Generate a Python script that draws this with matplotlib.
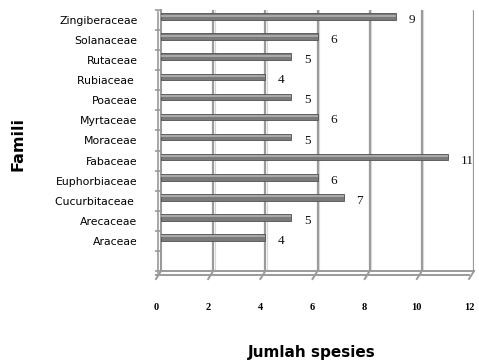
import matplotlib
matplotlib.use("Agg")
import matplotlib.pyplot as plt
import matplotlib.transforms as mtransforms
import numpy as np

families = ["Zingiberaceae", "Solanaceae", "Rutaceae", "Rubiaceae ", "Poaceae",
            "Myrtaceae", "Moraceae", "Fabaceae", "Euphorbiaceae", "Cucurbitaceae ",
            "Arecaceae", "Araceae"]
counts = [9, 6, 5, 4, 5, 6, 5, 11, 6, 7, 5, 4]
xticks = [0, 2, 4, 6, 8, 10, 12]

fig = plt.figure(figsize=(4.79, 3.64), dpi=100)
W, H = 479, 364
ax = fig.add_axes([161 / W, 1 - 271 / H, 313 / W, 261 / H])

n_slots = len(families) + 1  # one empty slot at the bottom
ypos = np.arange(len(families))
ax.set_xlim(0, 12)
ax.set_ylim(n_slots - 0.5, -0.5)

GRID = "#9a9a9a"
# gridlines
hl = mtransforms.ScaledTranslation(1.5 / 100, 0, fig.dpi_scale_trans)
for xv in xticks[1:]:
    ax.axvline(xv, color=GRID, lw=1.6, zorder=1)
    ax.plot([xv, xv], [n_slots - 0.5, -0.5], color="#d8d8d8", lw=0.8, zorder=1,
            transform=ax.transData + hl)

bar_y = ypos - 0.17
ax.barh(bar_y, counts, height=0.33, color="#7a7a7a", edgecolor="#505050", lw=0.6, zorder=3)
ax.barh(bar_y - 0.05, counts, height=0.1, color="#a8a8a8", lw=0, zorder=4)

for y, v in zip(ypos, counts):
    ax.annotate(str(v), (v, y), xytext=(9, 0), textcoords="offset points",
                ha="left", va="center", fontsize=9.5, family="Liberation Serif", color="#111111")

for s in ["top", "right", "bottom"]:
    ax.spines[s].set_visible(False)
ax.spines["left"].set_color(GRID)
ax.spines["left"].set_linewidth(1.5)

ax.set_yticks(ypos)
ax.set_yticklabels(families, fontsize=7.8, family="DejaVu Sans")
ax.set_yticks(np.arange(n_slots + 1) - 0.5, minor=True)
ax.tick_params(axis="y", which="major", length=0, pad=17)
ax.tick_params(axis="y", which="minor", length=4, color=GRID, width=1.2)

ax.set_xticks(xticks)
ax.set_xticklabels([str(t) for t in xticks], fontsize=7.5, family="Liberation Serif", fontweight="bold")
ax.tick_params(axis="x", length=0, pad=23)
offset = mtransforms.ScaledTranslation(-5 / 100, 0, fig.dpi_scale_trans)
for lab in ax.get_xticklabels():
    lab.set_transform(lab.get_transform() + offset)

# 3D floor
tr_front = ax.transData + mtransforms.ScaledTranslation(-5 / 100, -4 / 100, fig.dpi_scale_trans)
yb = n_slots - 0.5
ax.plot([0, 12], [yb, yb], color=GRID, lw=1.4, clip_on=False, zorder=2)
ax.plot([0, 12], [yb, yb], color=GRID, lw=1.4, clip_on=False, transform=tr_front, zorder=2)
ax.plot([0, 0], [yb, -0.5], color=GRID, lw=1.2, clip_on=False,
        transform=ax.transData + mtransforms.ScaledTranslation(-3 / 100, -2 / 100, fig.dpi_scale_trans))
inv = fig.transFigure.inverted()
for xv in xticks:
    x0, y0 = ax.transData.transform((xv, yb))
    x1, y1 = tr_front.transform((xv, yb))
    a = inv.transform((x0, y0)); b = inv.transform((x1, y1 - 4))
    fig.add_artist(plt.Line2D([a[0], b[0]], [a[1], b[1]], color=GRID, lw=1.4))

fig.text(312 / W, 1 - 352 / H, "Jumlah spesies", ha="center", va="center",
         fontsize=11, fontweight="bold", family="DejaVu Sans")
fig.text(18 / W, 1 - 144 / H, "Famili", ha="center", va="center", rotation=90,
         fontsize=11.5, fontweight="bold", family="DejaVu Sans")

fig.savefig("out.png", dpi=100)
